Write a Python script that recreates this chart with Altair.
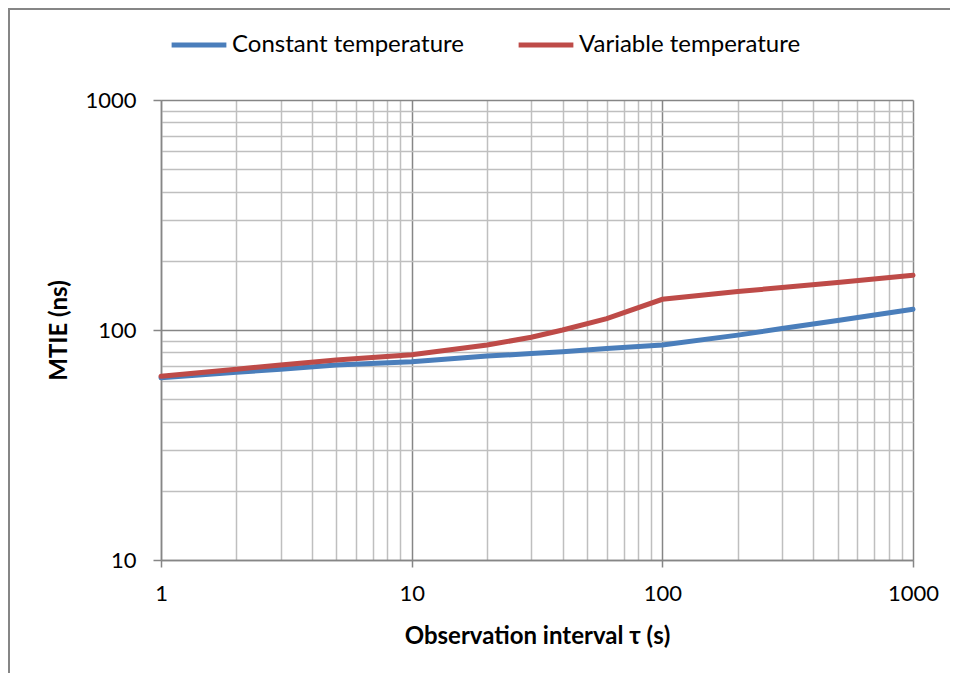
import altair as alt
import pandas as pd

tau = [1, 2, 3, 5, 10, 20, 30, 40, 60, 100, 200, 300, 500, 1000]
constant_temp = [62, 65.5, 67.5, 70.5, 72.8, 77, 79, 80.5, 83, 86, 95, 101.5, 110, 123]
variable_temp = [63, 67.5, 70.5, 74, 78, 86, 93, 100, 112, 136, 147, 153, 161, 173]

series_names = ["Constant temperature", "Variable temperature"]
series_colors = ["#4A7EBB", "#BE4B48"]

rows = []
for t, c, v in zip(tau, constant_temp, variable_temp):
    rows.append({"tau": t, "mtie": c, "series": series_names[0]})
    rows.append({"tau": t, "mtie": v, "series": series_names[1]})
df = pd.DataFrame(rows)

x_ticks = [m * 10 ** k for k in range(3) for m in range(1, 10)] + [1000]
y_ticks = [m * 10 ** k for k in range(1, 3) for m in range(1, 10)] + [1000]

FONT = "Lato"
MAJOR = "#868686"
MINOR = "#BFBFBF"

W, H = 752, 460

x_axis = alt.Axis(
    values=x_ticks,
    labelExpr="indexof([1,10,100,1000], datum.value) >= 0 ? datum.label : ''",
    format="d",
    grid=True,
    gridColor={"condition": {"test": "indexof([1,10,100,1000], datum.value) >= 0", "value": MAJOR}, "value": MINOR},
    gridWidth=1.5,
    tickColor={"condition": {"test": "indexof([1,10,100,1000], datum.value) >= 0", "value": MAJOR}, "value": "transparent"},
    tickSize=7,
    tickWidth=1.5,
    domainColor=MAJOR,
    domainWidth=1.5,
    labelFont=FONT,
    labelFontSize=22,
    labelColor="#000000",
    labelPadding=16,
    labelFlush=False,
    labelOverlap=False,
    title="Observation interval τ (s)",
    titleFont=FONT,
    titleFontSize=24,
    titleFontWeight="bold",
    titleColor="#000000",
    titlePadding=20,
)

y_axis = alt.Axis(
    values=y_ticks,
    labelExpr="indexof([10,100,1000], datum.value) >= 0 ? datum.label : ''",
    format="d",
    grid=True,
    gridColor={"condition": {"test": "indexof([10,100,1000], datum.value) >= 0", "value": MAJOR}, "value": MINOR},
    gridWidth=1.5,
    tickColor={"condition": {"test": "indexof([10,100,1000], datum.value) >= 0", "value": MAJOR}, "value": "transparent"},
    tickSize=8,
    tickWidth=1.5,
    domainColor=MAJOR,
    domainWidth=1.5,
    labelFont=FONT,
    labelFontSize=22,
    labelColor="#000000",
    labelPadding=17,
    labelFlush=False,
    labelOverlap=False,
    title="MTIE (ns)",
    titleFont=FONT,
    titleFontSize=24,
    titleFontWeight="bold",
    titleColor="#000000",
    titlePadding=13,
)

lines = alt.Chart(df).mark_line(strokeWidth=5, strokeCap="round").encode(
    x=alt.X("tau:Q", scale=alt.Scale(type="log", domain=[1, 1000], nice=False), axis=x_axis),
    y=alt.Y("mtie:Q", scale=alt.Scale(type="log", domain=[10, 1000], nice=False), axis=y_axis),
    color=alt.Color(
        "series:N",
        scale=alt.Scale(domain=series_names, range=series_colors),
        legend=alt.Legend(
            orient="none",
            legendX=8,
            legendY=-85,
            direction="horizontal",
            title=None,
            symbolType="stroke",
            symbolSize=3000,
            symbolStrokeWidth=5,
            labelFont=FONT,
            labelFontSize=24,
            labelColor="#000000",
            labelOffset=3,
            columnPadding=44,
            labelLimit=400,
        ),
    ),
)

border = alt.Chart(alt.Data(values=[{}])).mark_rect(
    filled=False, stroke=MAJOR, strokeWidth=2
).encode(
    x=alt.value(-152),
    x2=alt.value(W + 200),
    y=alt.value(-91),
    y2=alt.value(H + 300),
)

chart = alt.layer(border, lines).properties(
    width=W,
    height=H,
    padding={"left": 153, "top": 92, "right": 37, "bottom": 113},
    autosize=alt.AutoSizeParams(type="none"),
).configure_view(stroke=None)

chart.save("out.html", embed_options={"renderer": "svg", "actions": False})
